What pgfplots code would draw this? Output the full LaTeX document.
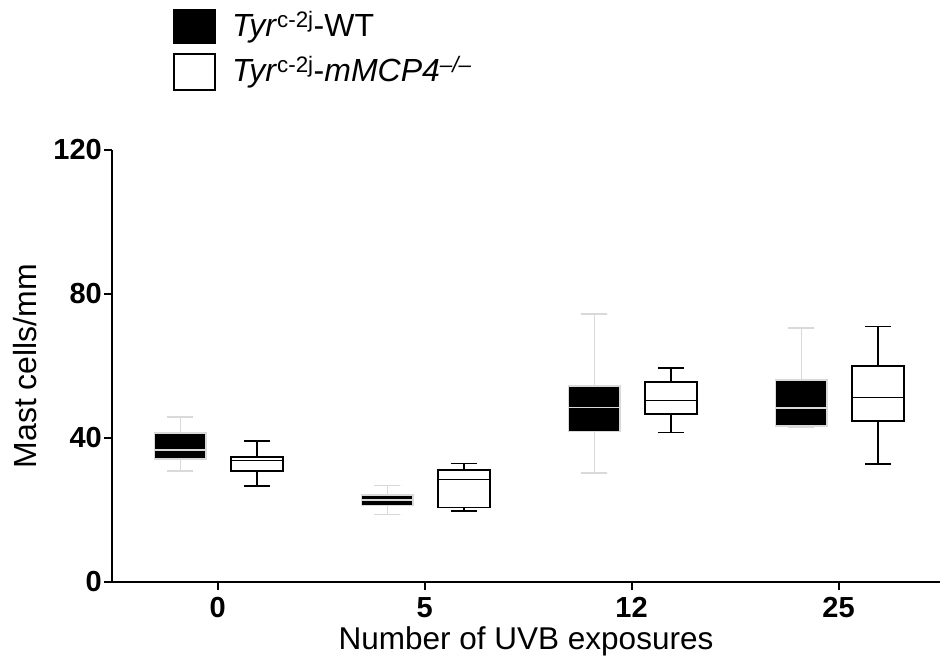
\documentclass[border=0pt]{standalone}
\usepackage{pgfplots}
\pgfplotsset{compat=1.18}
\usepgfplotslibrary{statistics}
\usepackage{fontspec}
\setmainfont{Liberation Sans}
\definecolor{wtline}{gray}{0.85}
\newcommand\lbl{\fontsize{32}{38}\selectfont}
\pgfplotsset{
  wt/.style={solid, fill=black, draw=wtline, line width=1.6pt, mark=none},
  ko/.style={solid, fill=white, draw=black, line width=1.6pt, mark=none},
}
\begin{document}
\begin{tikzpicture}
\useasboundingbox (0pt,0pt) rectangle (942pt,661pt);
% legend
\fill[black] (173pt,617pt) rectangle (216pt,652pt);
\draw[line width=1.5pt] (173.8pt,570.8pt) rectangle (215.2pt,607.2pt);
\node[anchor=base west,inner sep=0pt] at (232pt,624pt) {\lbl\textit{Tyr}\textsuperscript{c-2j}-WT};
\node[anchor=base west,inner sep=0pt] at (232pt,579pt) {\lbl\textit{Tyr}\textsuperscript{c-2j}-\textit{mMCP4}\textsuperscript{\textit{--/--}}};
\begin{axis}[
  at={(112pt,79pt)}, anchor=south west,
  scale only axis, width=828pt, height=432pt,
  xmin=-0.51, xmax=3.49, ymin=0, ymax=120,
  axis x line*=bottom, axis y line*=left,
  axis line style={line width=2.2pt, -},
  xtick={0,1,2,3}, xticklabels={0,5,12,25},
  ytick={0,40,80,120},
  tick align=outside, major tick length=8pt,
  tick style={line width=2pt, black},
  /pgf/number format/assume math mode=true,
  ticklabel style={font=\fontsize{29}{34}\selectfont\bfseries},
  xticklabel style={inner sep=0pt, yshift=-7pt},
  yticklabel style={inner sep=2pt},
  xlabel={Number of UVB exposures},
  ylabel={Mast cells/mm},
  every axis x label/.style={at={(axis description cs:0.5,0)}, anchor=base, inner sep=0pt, yshift=-67pt, font=\fontsize{31.5}{37}\selectfont},
  every axis y label/.style={at={(axis description cs:0,0.5)}, xshift=-87pt, anchor=center, rotate=90, font=\lbl},
  clip=false,
  boxplot/draw direction=y,
]
% WT
\addplot+[wt, boxplot prepared={draw direction=y, draw position=-0.18, box extend=0.25, whisker extend=0.125, lower whisker=30.8, lower quartile=34.2, median=36.7, upper quartile=41.4, upper whisker=45.9}] coordinates {};
\addplot+[wt, boxplot prepared={draw direction=y, draw position=0.82, box extend=0.25, whisker extend=0.125, lower whisker=18.8, lower quartile=21.2, median=22.8, upper quartile=24.2, upper whisker=26.8}] coordinates {};
\addplot+[wt, boxplot prepared={draw direction=y, draw position=1.82, box extend=0.25, whisker extend=0.125, lower whisker=30.3, lower quartile=41.8, median=48.5, upper quartile=54.4, upper whisker=74.4}] coordinates {};
\addplot+[wt, boxplot prepared={draw direction=y, draw position=2.82, box extend=0.25, whisker extend=0.125, lower whisker=42.9, lower quartile=43.4, median=48.4, upper quartile=56.1, upper whisker=70.5}] coordinates {};
% mMCP4-/-
\addplot+[ko, boxplot prepared={draw direction=y, draw position=0.19, box extend=0.25, whisker extend=0.125, lower whisker=26.7, lower quartile=30.8, median=33.8, upper quartile=34.8, upper whisker=39.2}] coordinates {};
\addplot+[ko, boxplot prepared={draw direction=y, draw position=1.19, box extend=0.25, whisker extend=0.125, lower whisker=19.8, lower quartile=20.7, median=28.5, upper quartile=31.1, upper whisker=32.9}] coordinates {};
\addplot+[ko, boxplot prepared={draw direction=y, draw position=2.19, box extend=0.25, whisker extend=0.125, lower whisker=41.5, lower quartile=46.7, median=50.4, upper quartile=55.6, upper whisker=59.5}] coordinates {};
\addplot+[ko, boxplot prepared={draw direction=y, draw position=3.19, box extend=0.25, whisker extend=0.125, lower whisker=32.8, lower quartile=44.7, median=51.2, upper quartile=60.0, upper whisker=71.0}] coordinates {};
\end{axis}
\end{tikzpicture}
\end{document}
